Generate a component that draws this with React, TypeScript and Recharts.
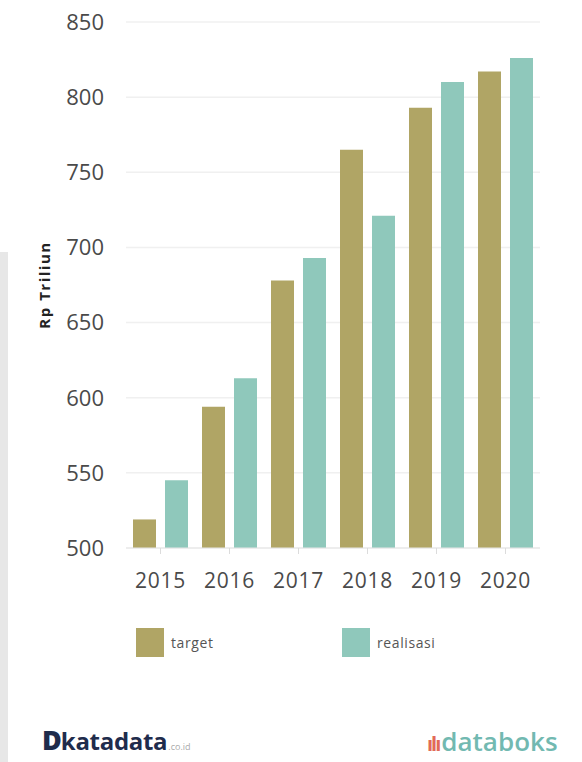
import React from "react";
import { BarChart, Bar, XAxis, YAxis, CartesianGrid } from "recharts";

const years = ["2015", "2016", "2017", "2018", "2019", "2020"];
const target = [519, 594, 678, 765, 793, 817];
const realisasi = [545, 613, 693, 721, 810, 826];
const yTicks = [500, 550, 600, 650, 700, 750, 800, 850];
const seriesNames = ["target", "realisasi"];

const TARGET_COLOR = "#b0a565";
const REAL_COLOR = "#8fc8bb";
const seriesColors = [TARGET_COLOR, REAL_COLOR];

const data = years.map((y, i) => ({ year: y, target: target[i], realisasi: realisasi[i] }));

const legendLeft = [136, 342];

export default function App() {
  return (
    <div style={{ position: "absolute", left: 0, top: 0, width: 582, height: 762, background: "#fff", overflow: "hidden" }}>
      <div style={{ position: "absolute", left: 0, top: 252, width: 8, height: 510, background: "#e7e7e7" }} />
      <BarChart
        width={582}
        height={600}
        data={data}
        margin={{ top: 22, right: 42, left: 0, bottom: 0 }}
        barCategoryGap={7}
        barGap={9}
      >
        <CartesianGrid vertical={false} stroke="#f0f0f0" strokeWidth={1.5} />
        <XAxis
          dataKey="year"
          height={52}
          axisLine={{ stroke: "#e6e6e6" }}
          tickLine={{ stroke: "#dcdcdc" }}
          tickSize={6}
          tickMargin={19}
          tick={{ fill: "#4a4a4a", fontFamily: "Open Sans", fontSize: 21, letterSpacing: 0.8 }}
          interval={0}
        />
        <YAxis
          width={126}
          domain={[500, 850]}
          ticks={yTicks}
          axisLine={false}
          tickLine={false}
          tickSize={0}
          tickMargin={22}
          tick={{ fill: "#4a4a4a", fontFamily: "Open Sans", fontSize: 22 }}
          label={{
            value: "Rp Triliun",
            angle: -90,
            position: "insideLeft",
            offset: 45,
            style: { fill: "#222", fontFamily: "Open Sans", fontSize: 15, fontWeight: 700, letterSpacing: 1.5, textAnchor: "middle" },
          }}
        />
        <Bar dataKey="target" name="target" fill={TARGET_COLOR} isAnimationActive={false} />
        <Bar dataKey="realisasi" name="realisasi" fill={REAL_COLOR} isAnimationActive={false} />
      </BarChart>
      {seriesNames.map((n, i) => (
        <div key={n} style={{ position: "absolute", left: legendLeft[i], top: 628, display: "flex", alignItems: "center" }}>
          <div style={{ width: 28, height: 29, background: seriesColors[i] }} />
          <span style={{ marginLeft: 7, fontFamily: "Open Sans", fontSize: 14, letterSpacing: 0.6, color: "#555" }}>{n}</span>
        </div>
      ))}
      <div style={{ position: "absolute", left: 42, top: 726, display: "flex", alignItems: "baseline", fontFamily: "Open Sans", fontWeight: 700, color: "#1f2c4c", lineHeight: "28px" }}>
        <span style={{ fontSize: 27, fontWeight: 800, letterSpacing: -1 }}>D</span>
        <span style={{ fontSize: 24, letterSpacing: -0.3 }}>katadata</span>
        <span style={{ fontSize: 9, color: "#aaa", fontWeight: 400, marginLeft: 1 }}>.co.id</span>
      </div>
      <div style={{ position: "absolute", left: 427, top: 726, display: "flex", alignItems: "baseline", fontFamily: "Open Sans", lineHeight: "30px" }}>
        <span style={{ fontSize: 20, color: "#e26a58", fontWeight: 700, letterSpacing: -2 }}>ılı</span>
        <span style={{ fontSize: 26, color: "#72b9b1", fontWeight: 600, marginLeft: 2 }}>databoks</span>
      </div>
    </div>
  );
}
